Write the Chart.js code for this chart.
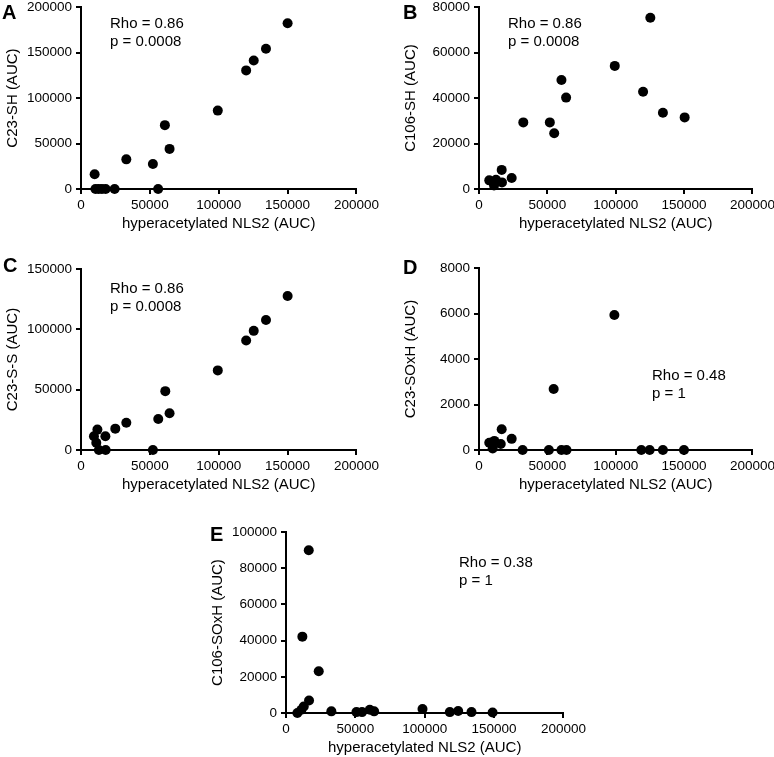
<!DOCTYPE html>
<html>
<head>
<meta charset="utf-8">
<script src="https://cdn.jsdelivr.net/npm/chart.js@4.4.1/dist/chart.umd.min.js"></script>
<style>
  body { margin: 0; background: #fff; }
  #fig { position: relative; width: 774px; height: 757px; overflow: hidden;
         font-family: "Liberation Sans", Arial, sans-serif; color: #000; }
  #fig canvas { position: absolute; }
  .stat { position: absolute; font-size: 15px; line-height: 18px; white-space: nowrap; }
  .tag { position: absolute; font-weight: bold; font-size: 20px; line-height: 20px; }
</style>
</head>
<body>
<div id="fig">
  <canvas id="cA"></canvas>
  <canvas id="cB"></canvas>
  <canvas id="cC"></canvas>
  <canvas id="cD"></canvas>
  <canvas id="cE"></canvas>

  <div class="tag" style="left:2px;top:2px">A</div>
  <div class="tag" style="left:403px;top:2px">B</div>
  <div class="tag" style="left:3px;top:255px">C</div>
  <div class="tag" style="left:403px;top:257px">D</div>
  <div class="tag" style="left:210px;top:524px">E</div>

  <div class="stat" style="left:110px;top:14px">Rho = 0.86<br>p = 0.0008</div>
  <div class="stat" style="left:508px;top:14px">Rho = 0.86<br>p = 0.0008</div>
  <div class="stat" style="left:110px;top:279px">Rho = 0.86<br>p = 0.0008</div>
  <div class="stat" style="left:652px;top:366px">Rho = 0.48<br>p = 1</div>
  <div class="stat" style="left:459px;top:553px">Rho = 0.38<br>p = 1</div>
</div>

<script>
// values (x = hyperacetylated NLS2 AUC)
const xTitle = "hyperacetylated NLS2 (AUC)";

const aX = [9900, 10500, 12800, 15200, 17900, 24400, 56000, 32900, 52200, 60900, 64300, 99300, 119900, 125400, 134300, 150000];
const aY = [16300, 0, 0, 0, 0, 0, 0, 32600, 27500, 70200, 44100, 86200, 130400, 141300, 154300, 182200];

const bX = [7500, 10500, 12400, 11000, 16600, 16800, 23900, 32400, 51800, 55000, 60300, 63700, 99300, 120000, 125300, 134500, 150400];
const bY = [3800, 3000, 4100, 1500, 8400, 2900, 4800, 29300, 29300, 24500, 47900, 40200, 54150, 42800, 75350, 33500, 31500];

const cX = [9400, 11900, 11100, 13000, 17700, 17900, 24900, 32900, 52200, 56100, 61200, 64300, 99300, 119900, 125400, 134300, 150000];
const cY = [11450, 16900, 6000, 0, 11450, 0, 17700, 22600, 0, 25700, 48800, 30500, 66000, 90800, 98800, 107800, 127700];

const dX = [7500, 10000, 11200, 15900, 16600, 23900, 31900, 51100, 54600, 60300, 64000, 99000, 118700, 124800, 134500, 149900];
const dY = [320, 70, 400, 260, 910, 490, 0, 0, 2680, 0, 0, 5940, 0, 0, 0, 0];

const eX = [8200, 11100, 12800, 16400, 11800, 16600, 23600, 32700, 50800, 54800, 60400, 63500, 98400, 118100, 124100, 133700, 148900];
const eY = [0, 1800, 3600, 90000, 42200, 6900, 23100, 900, 500, 500, 1800, 900, 2200, 500, 1100, 500, 300];

Chart.defaults.font.family = '"Liberation Sans", Arial, sans-serif';
Chart.defaults.color = "#000";

const Y_W = 80;   // y scale box width
const X_H = 44;   // x scale box height
const PAD_T = 10;
const PAD_R = 25;

function axisStyle() {
  return {
    grid: { display: true, drawOnChartArea: false, drawTicks: true, tickLength: 5, lineWidth: 2, color: "#000" },
    border: { display: true, width: 2, color: "#000" },
  };
}

// geo: pixel frame of the plot area on the page
function makePanel(id, geo, xs, ys, yMax, yStep, yTitle) {
  const canvas = document.getElementById(id);
  const left = Math.round(geo.axis - Y_W);
  const top = Math.round(geo.top - PAD_T);
  const w = Math.round(geo.right + PAD_R - left);
  const h = Math.round(geo.bottom + X_H - top);
  canvas.width = w;
  canvas.height = h;
  canvas.style.left = left + "px";
  canvas.style.top = top + "px";
  canvas.style.width = w + "px";
  canvas.style.height = h + "px";

  new Chart(canvas, {
    type: "scatter",
    data: {
      datasets: [{
        data: xs.map((x, i) => ({ x, y: ys[i] })),
        backgroundColor: "#000",
        borderWidth: 0,
        pointRadius: 5,
        pointHoverRadius: 5,
        clip: false,
      }],
    },
    options: {
      responsive: false,
      animation: false,
      devicePixelRatio: 1,
      layout: { padding: { left: 0, top: PAD_T, right: PAD_R, bottom: 0 } },
      scales: {
        x: {
          type: "linear",
          min: 0,
          max: 200000,
          afterFit: (s) => { s.height = X_H; },
          ticks: { stepSize: 50000, maxRotation: 0, padding: 3, font: { size: 13.5 }, color: "#000", callback: (v) => String(v) },
          title: { display: true, text: xTitle, font: { size: 15 }, color: "#000", padding: { top: 0, bottom: 0 } },
          ...axisStyle(),
        },
        y: {
          type: "linear",
          min: 0,
          max: yMax,
          afterFit: (s) => { s.width = Y_W; },
          ticks: { stepSize: yStep, padding: 4, font: { size: 13.5 }, color: "#000", callback: (v) => String(v) },
          title: { display: true, text: yTitle, font: { size: 15 }, color: "#000", padding: { top: 3, bottom: 0 } },
          ...axisStyle(),
        },
      },
      plugins: { legend: { display: false }, tooltip: { enabled: false } },
    },
  });
}

makePanel("cA", { axis: 81.3, top: 5, bottom: 189.3, right: 357 }, aX, aY, 200000, 50000, "C23-SH (AUC)");
makePanel("cB", { axis: 479, top: 5, bottom: 188.7, right: 752.7 }, bX, bY, 80000, 20000, "C106-SH (AUC)");
makePanel("cC", { axis: 81.3, top: 266.7, bottom: 450, right: 357 }, cX, cY, 150000, 50000, "C23-S-S (AUC)");
makePanel("cD", { axis: 479, top: 266, bottom: 450, right: 752.7 }, dX, dY, 8000, 2000, "C23-SOxH (AUC)");
makePanel("cE", { axis: 286.3, top: 530, bottom: 713.3, right: 563.5 }, eX, eY, 100000, 20000, "C106-SOxH (AUC)");
</script>
</body>
</html>
